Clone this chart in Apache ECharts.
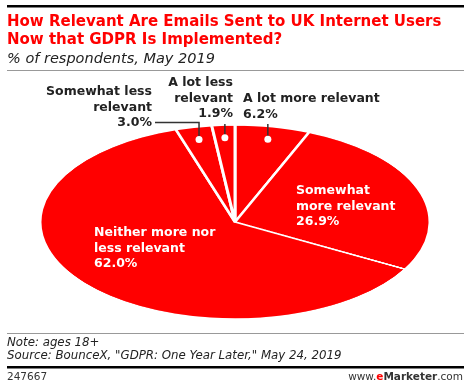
<!DOCTYPE html>
<html>
<head>
<meta charset="utf-8">
<script src="https://cdn.jsdelivr.net/npm/echarts@6/dist/echarts.min.js"></script>
<style>
  html, body { margin: 0; padding: 0; background: #fff; }
  #wrap { position: relative; width: 470px; height: 388px; overflow: hidden; }
  #pie { position: absolute; left: 40px; top: 27px; width: 390px; height: 390px;
         transform: scaleY(0.4974); transform-origin: 195px 195px; }
  #overlay { position: absolute; left: 0; top: 0; width: 470px; height: 388px; pointer-events: none; }
</style>
</head>
<body>
<div id="wrap">
  <div id="pie"></div>
  <div id="overlay"></div>
</div>
<script>
// ---- data ----
const categories = ["A lot more relevant", "Somewhat more relevant", "Neither more nor less relevant", "Somewhat less relevant", "A lot less relevant"];
const values = [6.2, 26.9, 62.0, 3.0, 1.9];
const labelLines = [
  ["A lot more relevant"],
  ["Somewhat", "more relevant"],
  ["Neither more nor", "less relevant"],
  ["Somewhat less", "relevant"],
  ["A lot less", "relevant"]
];
const titleLines = ["How Relevant Are Emails Sent to UK Internet Users", "Now that GDPR Is Implemented?"];
const subtitle = "% of respondents, May 2019";
const noteLines = ["Note: ages 18+", "Source: BounceX, \"GDPR: One Year Later,\" May 24, 2019"];
const chartId = "247667";

const RED = "#ff0000";
const FONT = "'DejaVu Sans', Verdana, sans-serif";

// ---- pie (drawn by ECharts, squashed into an ellipse by CSS) ----
const pie = echarts.init(document.getElementById('pie'), null, { renderer: 'canvas' });
pie.setOption({
  animation: false,
  series: [{
    type: 'pie',
    center: ['50%', '50%'],
    radius: ['0%', '100%'],
    startAngle: 90,
    clockwise: true,
    label: { show: false },
    labelLine: { show: false },
    itemStyle: { color: RED, borderColor: '#fff', borderWidth: 3 },
    emphasis: { disabled: true },
    data: categories.map((c, i) => ({ name: c, value: values[i] }))
  }]
});

// ---- overlay: text, rules, leader lines ----
const cx = 235, cy = 222, rx = 195, ry = 97;
const total = values.reduce((a, b) => a + b, 0);
function midPoint(i, f) {
  let before = 0;
  for (let k = 0; k < i; k++) before += values[k];
  const a = (before + values[i] / 2) / total * 2 * Math.PI;
  return [cx + rx * f * Math.sin(a), cy - ry * f * Math.cos(a)];
}
function pct(v) { return v.toFixed(1) + '%'; }

const g = [];
// rules
g.push({ type: 'rect', shape: { x: 7, y: 5, width: 457, height: 2.5 }, style: { fill: '#000' } });
g.push({ type: 'rect', shape: { x: 7, y: 70, width: 457, height: 1 }, style: { fill: '#999' } });
g.push({ type: 'rect', shape: { x: 7, y: 333, width: 457, height: 1 }, style: { fill: '#999' } });
g.push({ type: 'rect', shape: { x: 7, y: 366, width: 457, height: 2.5 }, style: { fill: '#000' } });

// title
titleLines.forEach((t, i) => {
  g.push({ type: 'text', x: 7, y: 22 + i * 18, style: {
    text: t, fill: RED, font: "bold 15px " + FONT, textVerticalAlign: 'middle' } });
});
g.push({ type: 'text', x: 7, y: 59, style: {
  text: subtitle, fill: '#222', font: "oblique 14.5px " + FONT, textVerticalAlign: 'middle' } });

// footer
noteLines.forEach((t, i) => {
  g.push({ type: 'text', x: 7, y: 343 + i * 13, style: {
    text: t, fill: '#222', font: "oblique 11.8px " + FONT, textVerticalAlign: 'middle' } });
});
g.push({ type: 'text', x: 7, y: 377, style: {
  text: chartId, fill: '#333', font: "10.5px " + FONT, textVerticalAlign: 'middle' } });
g.push({ type: 'text', x: 463, y: 377, style: {
  text: '{a|www.}{b|e}{c|Marketer}{a|.com}',
  rich: {
    a: { fill: '#333', font: "10.5px " + FONT },
    b: { fill: RED, font: "bold 10.5px " + FONT },
    c: { fill: '#333', font: "bold 10.5px " + FONT }
  },
  textAlign: 'right', textVerticalAlign: 'middle' } });

// slice labels
const LF = "bold 12.5px " + FONT;
function block(lines, x, yTop, align, color) {
  lines.forEach((t, i) => {
    g.push({ type: 'text', x: x, y: yTop + i * 15.5, style: {
      text: t, fill: color, font: LF, textAlign: align, textVerticalAlign: 'middle' } });
  });
}
// inside labels (white)
block(labelLines[1].concat([pct(values[1])]), 296, 191, 'left', '#fff');
block(labelLines[2].concat([pct(values[2])]), 94, 233, 'left', '#fff');
// outside labels (black)
block(labelLines[0], 243, 99, 'left', '#222');
block([pct(values[0])], 243, 115, 'left', '#222');
block(labelLines[4].concat([pct(values[4])]), 233, 83, 'right', '#222');
block(labelLines[3].concat([pct(values[3])]), 152, 92, 'right', '#222');

// leader lines + dots
const f = 0.87;
const p0 = midPoint(0, f), p4 = midPoint(4, f), p3 = midPoint(3, f);
g.push({ type: 'polyline', shape: { points: [[p0[0], 124], p0] }, style: { stroke: '#333', lineWidth: 1.5, fill: null } });
g.push({ type: 'polyline', shape: { points: [[p4[0], 124], p4] }, style: { stroke: '#333', lineWidth: 1.5, fill: null } });
g.push({ type: 'polyline', shape: { points: [[155, 122.5], [p3[0], 122.5], p3] }, style: { stroke: '#333', lineWidth: 1.5, fill: null } });
[p0, p4, p3].forEach(p => {
  g.push({ type: 'circle', shape: { cx: p[0], cy: p[1], r: 3.5 }, style: { fill: '#fff' } });
});

const ov = echarts.init(document.getElementById('overlay'), null, { renderer: 'canvas' });
ov.setOption({ animation: false, graphic: { elements: g } });
</script>
</body>
</html>
